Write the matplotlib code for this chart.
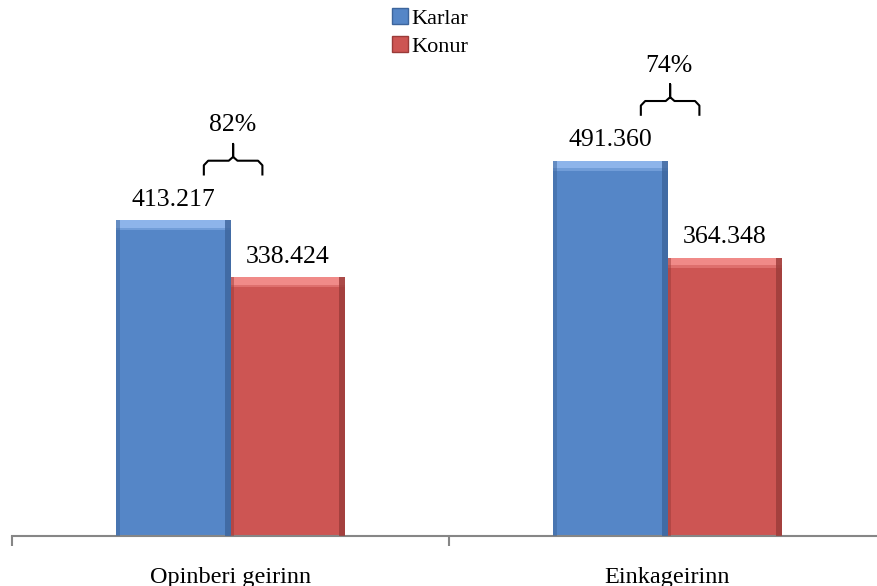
import numpy as np
import matplotlib
matplotlib.use("Agg")
import matplotlib.pyplot as plt
from matplotlib.patches import Patch

plt.rcParams['font.family'] = ['Liberation Serif', 'DejaVu Serif']

# data
categories = ['Opinberi geirinn', 'Einkageirinn']
series_names = ['Karlar', 'Konur']
karlar = [413.217, 491.360]
konur = [338.424, 364.348]
value_labels_k = ['413.217', '491.360']
value_labels_f = ['338.424', '364.348']

blue = '#5586c7'
blue_light = '#8db4ea'
blue_dark = '#3d659c'
red = '#cd5553'
red_light = '#f08a88'
red_dark = '#9a3b39'

W, H = 877, 586
fig = plt.figure(figsize=(W / 100, H / 100), dpi=100)
ax = fig.add_axes([12 / W, 50 / H, 874 / W, 458.4 / H])

x = np.arange(len(categories))
bw = 0.261

def bevel_bar(xpos, vals, base, light, dark):
    bars = ax.bar(xpos, vals, bw, color=base, edgecolor='none', zorder=2)
    vals = np.array(vals)
    # top highlight and darker edges to mimic the bevel look
    strip = 10.0
    ax.bar(xpos, np.full_like(vals, strip), bw, bottom=vals - strip,
           color=light, edgecolor='none', zorder=3)
    ax.bar(xpos, np.full_like(vals, strip * 0.4), bw, bottom=vals - strip * 1.3,
           color=light, alpha=0.5, edgecolor='none', zorder=3)
    ax.bar(xpos + bw / 2 - 0.006, vals, 0.012, color=dark, edgecolor='none',
           zorder=4, alpha=0.8)
    ax.bar(xpos - bw / 2 + 0.004, vals, 0.008, color=dark, edgecolor='none',
           zorder=4, alpha=0.5)
    return bars

bevel_bar(x - bw / 2, karlar, blue, blue_light, blue_dark)
bevel_bar(x + bw / 2, konur, red, red_light, red_dark)

for i in range(len(categories)):
    ax.annotate(value_labels_k[i], (x[i] - bw / 2, karlar[i]), xytext=(0, 7),
                textcoords='offset points', ha='center', va='bottom', fontsize=18.5)
    ax.annotate(value_labels_f[i], (x[i] + bw / 2, konur[i]), xytext=(0, 7),
                textcoords='offset points', ha='center', va='bottom', fontsize=18.5)

    # brace with share of women to men
    ratio = konur[i] / karlar[i]
    cx = x[i] + 0.006
    half = 0.067
    y0 = karlar[i] + 60
    y1 = y0 + 18
    y2 = y1 + 22
    r = 0.01
    bx = [cx - half, cx - half, cx - half + r, cx - r, cx, cx, cx, cx + r,
          cx + half - r, cx + half, cx + half]
    by = [y0, y1 - 6, y1, y1, y1 + 5, y2, y1 + 5, y1, y1, y1 - 6, y0]
    ax.plot(bx, by, color='black', lw=1.5, clip_on=False, zorder=5,
            solid_joinstyle='round')
    ax.text(cx - 0.002, y2 + 10, f'{ratio * 100:.0f}%', ha='center', va='bottom',
            fontsize=18.5)

ax.set_xlim(-0.5, 1.5)
ax.set_ylim(0, 600)
ax.set_xticks(x)
ax.set_xticklabels(categories, fontsize=17.5)
ax.tick_params(axis='x', which='major', length=0, pad=22)
ax.set_xticks([-0.5, 0.5, 1.5], minor=True)
ax.tick_params(axis='x', which='minor', length=7, width=1.5, color='#868686')
ax.set_yticks([])
for s in ['top', 'right', 'left']:
    ax.spines[s].set_visible(False)
ax.spines['bottom'].set_color('#868686')
ax.spines['bottom'].set_linewidth(1.5)

handles = [Patch(facecolor=blue, edgecolor=blue_dark, label=series_names[0]),
           Patch(facecolor=red, edgecolor=red_dark, label=series_names[1])]
fig.legend(handles=handles, loc='upper left', bbox_to_anchor=(392 / W, 1 - 8 / H),
           frameon=False, fontsize=16, handlelength=0.7, handleheight=0.7,
           handletextpad=0.15, labelspacing=0.35, borderpad=0, borderaxespad=0)

fig.savefig('out.png', dpi=100)
